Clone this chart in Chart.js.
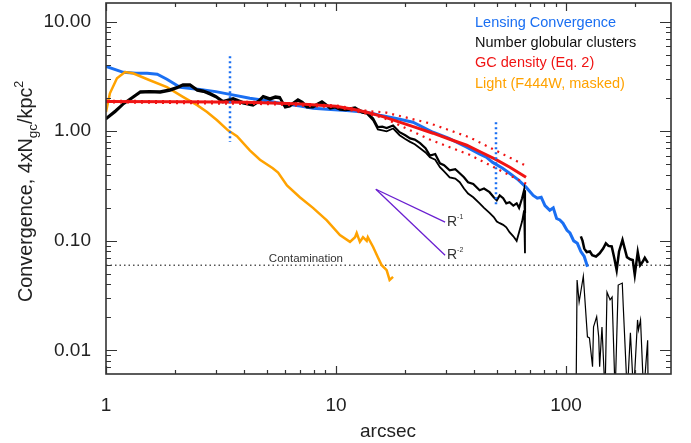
<!DOCTYPE html>
<html>
<head>
<meta charset="utf-8">
<script src="https://cdn.jsdelivr.net/npm/chart.js@4.4.1/dist/chart.umd.min.js"></script>
<style>
  body { margin: 0; background: #fff; }
  canvas { display: block; }
</style>
</head>
<body>
<canvas id="myChart" width="691" height="443"></canvas>
<script>
// radius in arcsec
const lensX = [1, 1.19, 1.35, 1.51, 1.67, 1.84, 2.1, 2.56, 3.0, 3.46, 4.22, 5.0, 5.7, 7.0, 7.94, 9.5, 11.1, 13.6, 15.5, 18.5, 21.6, 26.4, 31, 37, 42, 45, 48, 53, 56.8, 62, 67, 72, 75, 78, 81, 85, 88, 91, 94, 97, 101, 104, 108, 112, 116, 120, 124];
const lensY = [3.91, 3.45, 3.38, 3.38, 3.31, 2.98, 2.52, 2.41, 2.3, 2.17, 2.0, 1.9, 1.80, 1.70, 1.62, 1.58, 1.55, 1.49, 1.40, 1.30, 1.21, 0.98, 0.86, 0.715, 0.62, 0.58, 0.52, 0.46, 0.414, 0.36, 0.309, 0.26, 0.245, 0.25, 0.21, 0.19, 0.2, 0.16, 0.155, 0.145, 0.125, 0.118, 0.1, 0.095, 0.08, 0.072, 0.058];

const numX = [1, 1.1, 1.19, 1.3, 1.41, 1.55, 1.72, 1.9, 2.05, 2.16, 2.32, 2.49, 2.65, 2.83, 3.0, 3.22, 3.4, 3.57, 3.94, 4.36, 4.6, 4.82, 5.16, 5.45, 5.7, 6.0, 6.3, 6.83, 7.15, 7.47, 7.94, 8.3, 8.69, 9.0, 9.42, 9.91, 10.4, 11.0, 11.5, 12.1, 12.5, 13.0, 13.6, 14.5, 15.2, 15.9, 16.6, 17.7, 18.9, 20, 21, 22, 23.2, 24.5, 25.6, 27, 28.3, 29.5, 31.2, 33, 34.5, 36, 37.5, 39.5, 42.1, 44, 46.5, 48.5, 50, 51.5, 53.3, 55, 56.8, 59, 61, 62.5, 64.4, 65.7, 66.3];
const numUpper = [1.32, 1.55, 1.80, 2.05, 2.31, 2.33, 2.31, 2.41, 2.55, 2.68, 2.68, 2.41, 2.35, 2.23, 2.1, 1.89, 1.95, 2.0, 1.85, 1.76, 1.9, 2.10, 2.0, 2.08, 2.05, 1.69, 1.73, 1.96, 1.85, 1.69, 1.69, 1.78, 1.88, 1.78, 1.65, 1.69, 1.62, 1.60, 1.62, 1.65, 1.58, 1.52, 1.49, 1.31, 1.09, 1.10, 1.07, 1.13, 0.98, 0.92, 0.86, 0.84, 0.78, 0.70, 0.60, 0.62, 0.51, 0.49, 0.44, 0.45, 0.414, 0.38, 0.343, 0.33, 0.29, 0.30, 0.278, 0.25, 0.235, 0.26, 0.245, 0.22, 0.225, 0.21, 0.22, 0.20, 0.245, 0.29, 0.179];
const numLower = [1.28, 1.50, 1.75, 1.99, 2.24, 2.26, 2.24, 2.34, 2.47, 2.60, 2.60, 2.34, 2.28, 2.16, 2.04, 1.83, 1.89, 1.94, 1.79, 1.71, 1.84, 2.04, 1.94, 2.02, 1.99, 1.64, 1.68, 1.90, 1.79, 1.64, 1.64, 1.73, 1.82, 1.73, 1.60, 1.64, 1.57, 1.55, 1.57, 1.60, 1.53, 1.47, 1.45, 1.26, 1.04, 1.02, 1.0, 1.06, 0.92, 0.85, 0.80, 0.76, 0.70, 0.64, 0.58, 0.55, 0.47, 0.43, 0.38, 0.37, 0.343, 0.30, 0.27, 0.25, 0.22, 0.20, 0.18, 0.165, 0.15, 0.145, 0.14, 0.133, 0.12, 0.11, 0.10, 0.12, 0.15, 0.19, 0.077];

const outerX = [116, 118, 120, 123, 127, 130, 135, 140, 145, 149, 153, 158, 162, 166, 170, 176, 180, 184, 190, 195, 199, 205, 210, 215, 220, 227];
const outerY = [0.11, 0.10, 0.085, 0.079, 0.08, 0.074, 0.072, 0.077, 0.085, 0.095, 0.09, 0.089, 0.07, 0.054, 0.08, 0.102, 0.085, 0.071, 0.068, 0.067, 0.049, 0.079, 0.06, 0.064, 0.07, 0.063];

const thinX = [110.6, 111.7, 114, 118.9, 123.9, 126.4, 130.4, 131.7, 135.9, 138.7, 140, 143.3, 147.8, 150.7, 155.4, 158.6, 163.5, 168.6, 175.6, 177.4, 184.6, 190.5, 196.6, 204.6, 206.6, 210.8, 217.5, 226.4, 227.5];
const thinY = [0.004, 0.044, 0.0277, 0.0476, 0.0133, 0.013, 0.0071, 0.0164, 0.0203, 0.0133, 0.0071, 0.0164, 0.004, 0.034, 0.029, 0.0307, 0.004, 0.0395, 0.0412, 0.0249, 0.004, 0.0145, 0.004, 0.019, 0.0154, 0.019, 0.004, 0.0124, 0.004];

const gcX = [1, 2, 3, 4, 5.7, 7, 8.5, 10, 12, 13.6, 16, 18.9, 22, 26.4, 31, 37, 43, 49.2, 57, 67];
const gcY = [1.87, 1.86, 1.85, 1.84, 1.80, 1.77, 1.73, 1.69, 1.58, 1.49, 1.36, 1.21, 1.09, 0.96, 0.85, 0.746, 0.64, 0.556, 0.47, 0.381];
const gcBandX = [1, 5, 10, 14, 16.3, 25.6, 38.1, 67.5];
const gcUpper = [1.90, 1.85, 1.72, 1.52, 1.49, 1.18, 0.88, 0.48];
const gcLower = [1.84, 1.77, 1.66, 1.43, 1.31, 0.84, 0.61, 0.33];

const lightX = [1, 1.04, 1.116, 1.21, 1.31, 1.55, 1.84, 2.16, 2.49, 2.75, 3.04, 3.39, 3.55, 3.71, 4.22, 4.67, 5.31, 5.6, 6.12, 6.96, 7.94, 9.12, 10.4, 11.5, 12.1, 12.3, 12.7, 13.1, 13.6, 13.75, 14.5, 15.2, 15.8, 16.6, 17.1, 17.7];
const lightY = [1.50, 2.22, 3.04, 3.47, 3.38, 2.92, 2.53, 2.06, 1.73, 1.50, 1.26, 1.02, 0.96, 0.90, 0.67, 0.55, 0.46, 0.42, 0.32, 0.25, 0.20, 0.154, 0.113, 0.098, 0.108, 0.118, 0.098, 0.108, 0.100, 0.108, 0.088, 0.071, 0.060, 0.054, 0.044, 0.047];

const markerX = [3.46, 49.6];
const markerTop = [4.83, 1.21];
const markerBottom = [0.80, 0.212];

const slopeStart = [14.9, 0.296];
const slopeEndX = 29.8;
const slopeR1 = 0.148;
const slopeR2 = 0.074;

const contamination = 0.06;
const xRange = [1, 286];
const yRange = [0.0061, 14.8];

const legendItems = ['Lensing Convergence', 'Number globular clusters', 'GC density (Eq. 2)', 'Light (F444W, masked)'];

const BLUE = '#1a6ff2';
const RED = '#f01414';
const ORANGE = '#ffa200';
const PURPLE = '#6a1fd0';
const FONT = '"Liberation Sans", Arial, Helvetica, sans-serif';

const pts = (xs, ys) => xs.map((x, i) => ({ x: x, y: ys[i] }));
const line = (data, color, width, extra) => Object.assign({
  data: data, borderColor: color, borderWidth: width, pointRadius: 0, fill: false, tension: 0
}, extra || {});

const datasets = [
  line([{ x: markerX[0], y: markerTop[0] }, { x: markerX[0], y: markerBottom[0] }], BLUE, 2.5, { borderDash: [2, 3] }),
  line([{ x: markerX[1], y: markerTop[1] }, { x: markerX[1], y: markerBottom[1] }], BLUE, 2.5, { borderDash: [2, 3] }),
  line(pts(gcX, gcY), RED, 3),
  line(pts(gcBandX, gcUpper), RED, 2.2, { borderDash: [2, 5] }),
  line(pts(gcBandX, gcLower), RED, 2.2, { borderDash: [2, 5] }),
  line(pts(numX, numUpper), '#000', 2.2),
  line(pts(numX, numLower), '#000', 1.8),
  line(pts(outerX, outerY), '#000', 2.5),
  line(pts(thinX, thinY), '#000', 1.2),
  line(pts(lightX, lightY), ORANGE, 2.5),
  line(pts(lensX, lensY), BLUE, 3),
  line([{ x: slopeStart[0], y: slopeStart[1] }, { x: slopeEndX, y: slopeR1 }], PURPLE, 1.3),
  line([{ x: slopeStart[0], y: slopeStart[1] }, { x: slopeEndX, y: slopeR2 }], PURPLE, 1.3),
  line([{ x: xRange[0], y: contamination }, { x: xRange[1], y: contamination }], '#000', 1, { borderDash: [1.5, 3] })
];

function isDecade(v) {
  const l = Math.log10(v);
  return Math.abs(l - Math.round(l)) < 1e-6;
}

function noPad(s) {
  s.paddingTop = 0; s.paddingBottom = 0; s.paddingLeft = 0; s.paddingRight = 0;
}

const decorations = {
  id: 'decorations',
  afterDraw(chart) {
    const ctx = chart.ctx;
    const a = chart.chartArea;
    const xs = chart.scales.x, ys = chart.scales.y;
    ctx.save();
    // frame
    ctx.strokeStyle = '#333';
    ctx.lineWidth = 1.6;
    ctx.strokeRect(a.left, a.top, a.right - a.left, a.bottom - a.top);
    // inward ticks
    ctx.lineWidth = 1.2;
    ctx.beginPath();
    for (let e = -3; e <= 3; e++) {
      for (let m = 1; m <= 9; m++) {
        const v = m * Math.pow(10, e);
        if (v >= ys.min && v <= ys.max) {
          const p = Math.round(ys.getPixelForValue(v)) + 0.5;
          const len = m === 1 ? 11 : 5;
          ctx.moveTo(a.left, p); ctx.lineTo(a.left + len, p);
          ctx.moveTo(a.right, p); ctx.lineTo(a.right - len, p);
        }
        if (v >= xs.min && v <= xs.max) {
          const p = Math.round(xs.getPixelForValue(v)) + 0.5;
          const len = m === 1 ? 8 : 4;
          ctx.moveTo(p, a.bottom); ctx.lineTo(p, a.bottom - len);
          ctx.moveTo(p, a.top); ctx.lineTo(p, a.top + len);
        }
      }
    }
    ctx.stroke();

    // legend text
    const legendColors = [BLUE, '#111', RED, ORANGE];
    ctx.font = '14.5px ' + FONT;
    ctx.textAlign = 'left';
    ctx.textBaseline = 'alphabetic';
    legendItems.forEach((t, i) => {
      ctx.fillStyle = legendColors[i];
      ctx.fillText(t, 475, 26.5 + i * 20.4);
    });

    // contamination label
    ctx.fillStyle = '#333';
    ctx.font = '11.5px ' + FONT;
    ctx.textAlign = 'center';
    ctx.fillText('Contamination', xs.getPixelForValue(7.4), ys.getPixelForValue(contamination) - 3.5);

    // slope labels
    const lx = xs.getPixelForValue(slopeEndX) + 2;
    [[slopeR1, '-1'], [slopeR2, '-2']].forEach(([v, s]) => {
      const py = ys.getPixelForValue(v) + 4;
      ctx.textAlign = 'left';
      ctx.fillStyle = '#333';
      ctx.font = '14px ' + FONT;
      ctx.fillText('R', lx, py);
      ctx.font = '7px ' + FONT;
      ctx.fillText(s, lx + 10, py - 7);
    });

    // axis titles
    ctx.fillStyle = '#222';
    ctx.font = '19px ' + FONT;
    ctx.textAlign = 'center';
    ctx.fillText('arcsec', 388, 437);

    ctx.translate(32, 302);
    ctx.rotate(-Math.PI / 2);
    ctx.textAlign = 'left';
    let x = 0;
    const part = (t, size, dy) => {
      ctx.font = size + 'px ' + FONT;
      ctx.fillText(t, x, dy);
      x += ctx.measureText(t).width;
    };
    part('Convergence, 4xN', 19.8, 0);
    part('gc', 13.5, 5);
    part('/kpc', 19.8, 0);
    part('2', 12.5, -9);
    ctx.restore();
  }
};

new Chart(document.getElementById('myChart'), {
  type: 'line',
  data: { datasets: datasets },
  options: {
    responsive: false,
    animation: false,
    devicePixelRatio: 1,
    layout: { padding: { left: 0, right: 20, top: 3, bottom: 0 } },
    plugins: { legend: { display: false }, tooltip: { enabled: false } },
    scales: {
      x: {
        type: 'logarithmic',
        min: xRange[0],
        max: xRange[1],
        grid: { display: false },
        border: { display: false },
        ticks: {
          autoSkip: false,
          includeBounds: false,
          maxRotation: 0,
          padding: 12,
          color: '#222',
          font: { family: FONT, size: 19 },
          callback: (v) => isDecade(v) ? String(Math.round(v)) : ''
        },
        afterFit: (s) => { s.height = 69; noPad(s); }
      },
      y: {
        type: 'logarithmic',
        min: yRange[0],
        max: yRange[1],
        grid: { display: false },
        border: { display: false },
        ticks: {
          autoSkip: false,
          includeBounds: false,
          padding: 7,
          color: '#222',
          font: { family: FONT, size: 19 },
          callback: (v) => isDecade(v) ? v.toFixed(2) : ''
        },
        afterFit: (s) => { s.width = 106; noPad(s); }
      }
    }
  },
  plugins: [decorations]
});
</script>
</body>
</html>
